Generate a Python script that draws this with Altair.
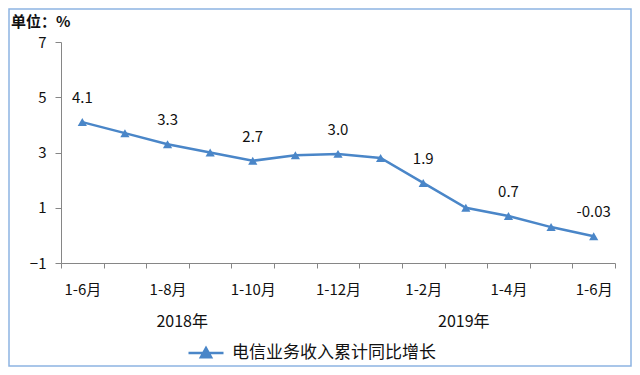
import altair as alt
import pandas as pd

PERIODS = ["1-6月", "1-7月", "1-8月", "1-9月", "1-10月", "1-11月", "1-12月",
           "1月", "1-2月", "1-3月", "1-4月", "1-5月", "1-6月"]
VALUES = [4.1, 3.7, 3.3, 3.0, 2.7, 2.9, 2.95, 2.8, 1.9, 1.0, 0.7, 0.3, -0.03]
LABELS = ["4.1", "", "3.3", "", "2.7", "", "3.0", "", "1.9", "", "0.7", "", "-0.03"]
SHOWN_TICKS = [0, 2, 4, 6, 8, 10, 12]
YEARS = ["2018年", "2019年"]
YEAR_ANCHOR = [3, 9]
Y_TICKS = [-1, 1, 3, 5, 7]
SERIES = ["电信业务收入累计同比增长"]
UNIT = ["单位：%"]

BLUE = "#4A86C8"
GRAY = "#868686"
FONT = "Noto Sans CJK SC"
W, H = 554, 221
PAD = {"left": 53, "top": 34, "right": 17, "bottom": 104}

df = pd.DataFrame({
    "idx": list(range(len(VALUES))),
    "value": VALUES,
    "label": LABELS,
    "series": SERIES * len(VALUES),
})

arr = "[" + ",".join("'" + p + "'" for p in PERIODS) + "]"
shown = "[" + ",".join(str(i) for i in SHOWN_TICKS) + "]"
label_expr = f"indexof({shown}, datum.value) >= 0 ? {arr}[datum.value] : ''"

x_enc = alt.X(
    "idx:O",
    scale=alt.Scale(type="band", paddingInner=0, paddingOuter=0),
    axis=alt.Axis(title=None, labelExpr=label_expr, labelAngle=0, tickBand="extent",
                  tickSize=5, tickColor=GRAY, domainColor=GRAY, labelFont=FONT,
                  labelFontSize=15, labelColor="#111", labelPadding=14, grid=False),
)
y_enc = alt.Y(
    "value:Q",
    scale=alt.Scale(domain=[-1, 7], nice=False, zero=False),
    axis=alt.Axis(title=None, values=Y_TICKS, tickSize=6, tickColor=GRAY, domainColor=GRAY,
                  labelFont=FONT, labelFontSize=15, labelColor="#111", labelPadding=9,
                  grid=False),
)

base = alt.Chart(df)

legend_symbol = "M-1,0L1,0M-0.29,0.24L0.29,0.24L0,-0.28Z"

line = base.mark_line(strokeWidth=2.5).encode(
    x=x_enc, y=y_enc,
    color=alt.Color("series:N", scale=alt.Scale(range=[BLUE]),
                    legend=alt.Legend(orient="none", legendX=126, legendY=292, title=None,
                                      symbolType=legend_symbol, symbolSize=1225,
                                      symbolStrokeWidth=2.5, symbolFillColor=BLUE,
                                      labelFont=FONT, labelFontSize=17, labelColor="#111",
                                      labelOffset=7, labelLimit=500)),
)

points = base.mark_point(shape="triangle-up", filled=True, size=85, color=BLUE, opacity=1).encode(
    x=x_enc, y=y_enc)

texts = base.mark_text(dy=-24, fontSize=15, font=FONT, color="#111").encode(
    x=x_enc, y=y_enc, text="label:N")

ydf = pd.DataFrame({"idx": YEAR_ANCHOR, "year": YEARS})
year1 = alt.Chart(ydf).transform_filter(alt.datum.idx == YEAR_ANCHOR[0]).mark_text(
    fontSize=16, font=FONT, color="#111", dx=-28).encode(
    x=alt.X("idx:O"), y=alt.value(280), text="year:N")
year2 = alt.Chart(ydf).transform_filter(alt.datum.idx == YEAR_ANCHOR[1]).mark_text(
    fontSize=16, font=FONT, color="#111", dx=-2).encode(
    x=alt.X("idx:O"), y=alt.value(280), text="year:N")

one = pd.DataFrame({"t": UNIT})
title = alt.Chart(one).mark_text(align="left", baseline="middle", fontSize=15,
                                 fontWeight="bold", font=FONT, color="#111").encode(
    x=alt.value(-50), y=alt.value(-20), text="t:N")

border = alt.Chart(one).mark_rect(fill=None, stroke="#8DB4E2", strokeWidth=1.5).encode(
    x=alt.value(-PAD["left"] + 1), x2=alt.value(W + PAD["right"] - 1),
    y=alt.value(-PAD["top"] + 1), y2=alt.value(H + PAD["bottom"] - 1))

chart = alt.layer(border, line, points, texts, year1, year2, title).properties(
    width=W, height=H, padding=PAD, autosize=alt.AutoSizeParams(type="none"),
    background="white",
).configure_view(stroke=None)

chart.save("out.html", embed_options={"renderer": "svg", "actions": False})
